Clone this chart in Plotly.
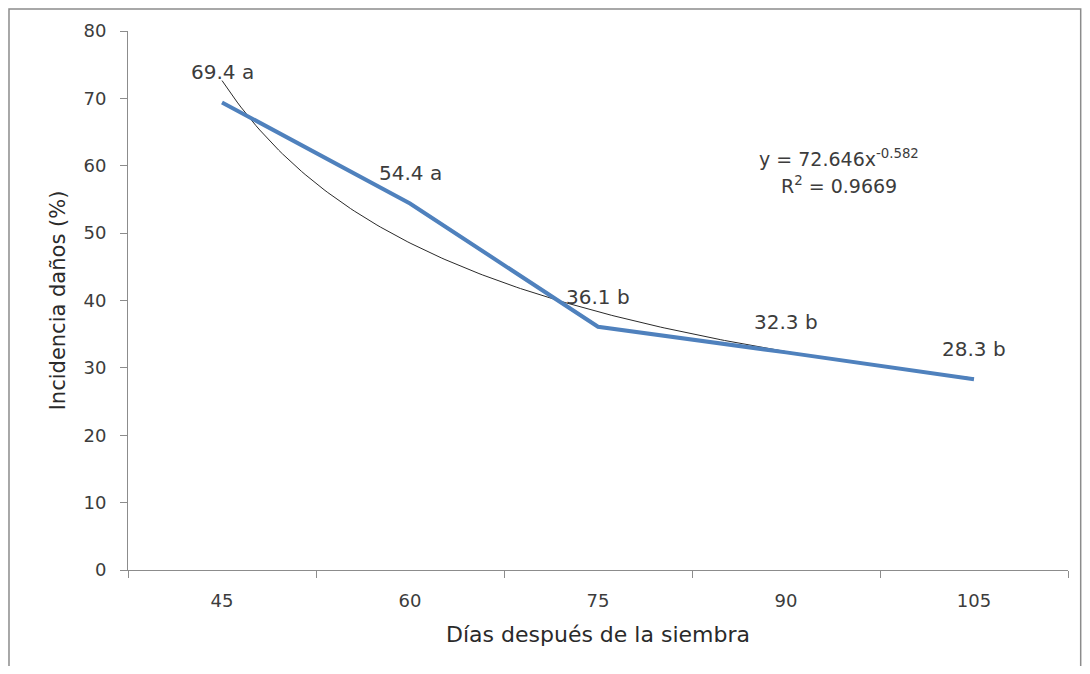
import numpy as np
import plotly.graph_objects as go

categories = ["45", "60", "75", "90", "105"]
incidencia = [69.4, 54.4, 36.1, 32.3, 28.3]
letras = ["a", "a", "b", "b", "b"]
y_ticks = [0, 10, 20, 30, 40, 50, 60, 70, 80]

# Power trendline reported on the chart: y = a * x^b (x = category index 1..5)
trend_a = 72.646
trend_b = -0.582
r2 = 0.9669

WIDE = "'DejaVu Sans', Verdana, sans-serif"
TXT = "#3c3c3c"
AX = "#8c8c8c"

x_idx = list(range(1, len(categories) + 1))
xs = np.linspace(1, len(categories), 200)
ys = trend_a * xs ** trend_b

labels = [f"{v} {l}" for v, l in zip(incidencia, letras)]

fig = go.Figure()
fig.add_trace(go.Scatter(x=xs, y=ys, mode="lines",
                         line=dict(color="#2a2a2a", width=1), hoverinfo="skip",
                         showlegend=False))
fig.add_trace(go.Scatter(x=x_idx, y=incidencia, mode="lines",
                         line=dict(color="#4F81BD", width=4),
                         showlegend=False))
for xi, v, t in zip(x_idx, incidencia, labels):
    fig.add_annotation(x=xi, y=v, text=t, showarrow=False, yshift=30,
                       xanchor="center",
                       font=dict(family=WIDE, size=20, color=TXT))

fig.add_annotation(x=0.756, y=0.764, xref="paper", yref="paper",
                   xanchor="center", yanchor="middle",
                   text=f"y = {trend_a}x<sup>{trend_b}</sup>", showarrow=False,
                   font=dict(family=WIDE, size=19, color=TXT))
fig.add_annotation(x=0.756, y=0.714, xref="paper", yref="paper",
                   xanchor="center", yanchor="middle",
                   text=f"R<sup>2</sup> = {r2}", showarrow=False,
                   font=dict(family=WIDE, size=19, color=TXT))

# chart border
fig.add_shape(type="rect", xref="paper", yref="paper",
              x0=-0.1266, x1=1.0135, y0=-0.2, y1=1.0408,
              line=dict(color="#8c8c8c", width=1.5))

fig.update_layout(
    width=1074, height=658,
    margin=dict(l=120, r=14, t=23, b=96),
    paper_bgcolor="white", plot_bgcolor="white",
    font=dict(family=WIDE, size=18, color=TXT),
    xaxis=dict(range=[0.5, 5.5], tickvals=x_idx, ticktext=categories,
               showgrid=False, zeroline=False, ticks="",
               ticklabelstandoff=14,
               showline=True, linecolor=AX, linewidth=1,
               tickfont=dict(family=WIDE, size=18, color=TXT),
               title=dict(text="Días después de la siembra",
                          font=dict(family=WIDE, size=22, color="#2a2a2a"),
                          standoff=17)),
    xaxis2=dict(range=[0.5, 5.5], overlaying="x", anchor="y", side="bottom",
                tickvals=[0.5, 1.5, 2.5, 3.5, 4.5, 5.5], showticklabels=False,
                ticks="outside", ticklen=7, tickcolor=AX,
                showgrid=False, zeroline=False),
    yaxis=dict(range=[0, 80], tickvals=y_ticks, showgrid=False, zeroline=False,
               ticks="outside", ticklen=7, tickcolor=AX,
               ticklabelstandoff=10,
               showline=True, linecolor=AX, linewidth=1,
               tickfont=dict(family=WIDE, size=18, color=TXT),
               title=dict(text="Incidencia daños (%)",
                          font=dict(family=WIDE, size=21, color="#2a2a2a"),
                          standoff=12)),
)
fig.add_trace(go.Scatter(x=[], y=[], xaxis="x2", yaxis="y", showlegend=False))

fig.write_html("out.html")
